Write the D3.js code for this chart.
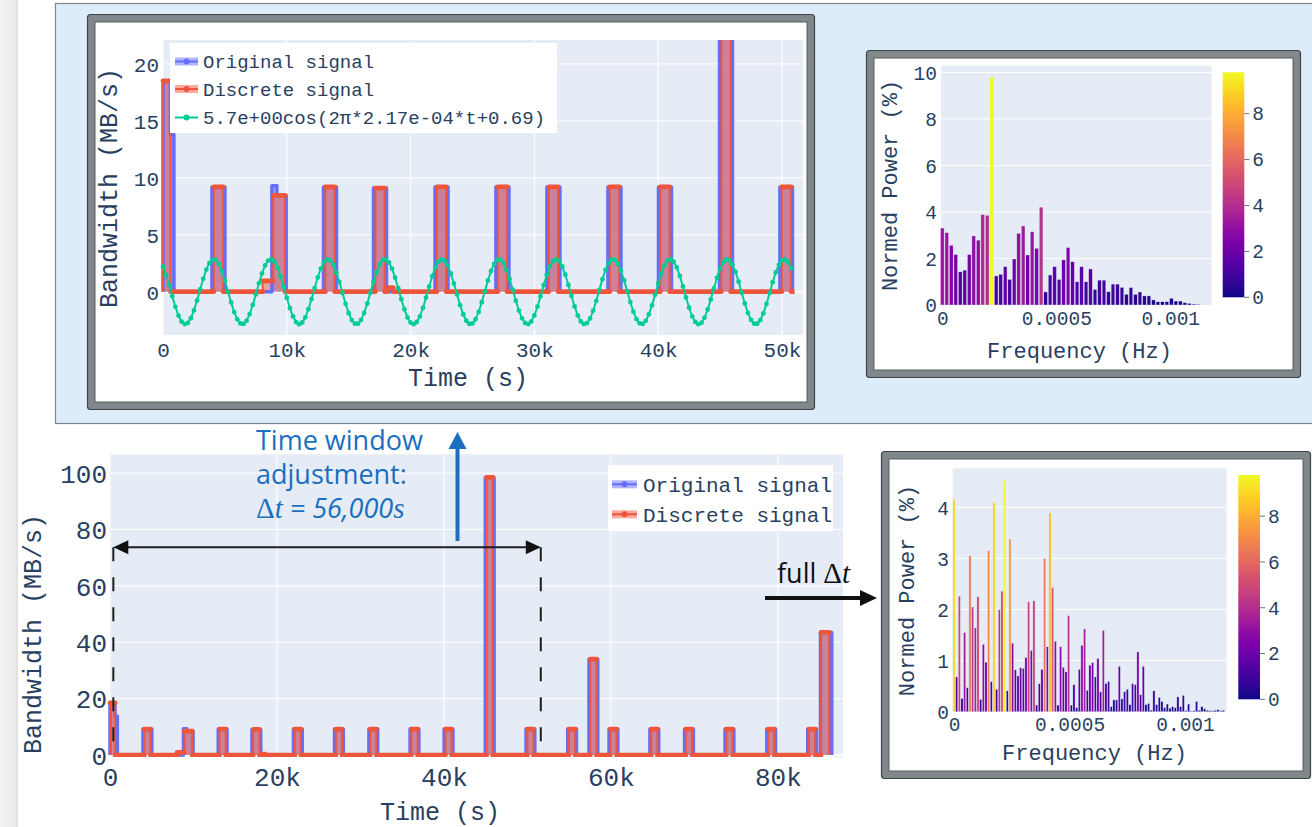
<!DOCTYPE html>
<html>
<head>
<meta charset="utf-8">
<title>I/O bandwidth trace and its frequency spectrum</title>
<script src="https://cdn.jsdelivr.net/npm/d3@7/dist/d3.min.js"></script>
<style>
  html, body { margin: 0; padding: 0; background: #ffffff; }
  svg { display: block; }
</style>
</head>
<body>
<svg id="figure" width="1312" height="827"></svg>
<script>
// ---------------- data ----------------
// Bursts of the recorded bandwidth: [start (s), end (s), bandwidth (MB/s)]
const originalPulses = [
  [0, 600, 18.5], [600, 880, 13.8],
  [3955, 5005, 9.2],
  [8800, 9200, 9.3], [9200, 9950, 8.45],
  [12965, 14015, 9.2],
  [17005, 18055, 9.1],
  [21975, 23025, 9.2],
  [26895, 27945, 9.2],
  [31015, 32065, 9.2],
  [35945, 36995, 9.2],
  [40025, 41075, 9.2],
  [44955, 46005, 98.5],
  [49835, 50885, 9.2],
  [54825, 55875, 9.2],
  [57375, 58425, 34],
  [59775, 60825, 9.2],
  [64675, 65725, 9.2],
  [68825, 69875, 9.2],
  [73675, 74725, 9.2],
  [78675, 79725, 9.2],
  [83575, 84625, 9.2],
  [85100, 86450, 43.5]
];
// Discretised version of the same signal
const discretePulses = [
  [0, 620, 18.5],
  [4105, 4855, 9.2],
  [8050, 8900, 0.95], [8900, 9850, 8.45],
  [13115, 13865, 9.2],
  [17155, 17905, 9.1],
  [18100, 18600, 0.35],
  [22125, 22875, 9.2],
  [27045, 27795, 9.2],
  [31165, 31915, 9.2],
  [36095, 36845, 9.2],
  [40175, 40925, 9.2],
  [45105, 45855, 98.5],
  [49985, 50735, 9.2],
  [54975, 55725, 9.2],
  [57525, 58275, 34],
  [59925, 60675, 9.2],
  [64825, 65575, 9.2],
  [68975, 69725, 9.2],
  [73825, 74575, 9.2],
  [78825, 79575, 9.2],
  [83725, 84475, 9.2],
  [85150, 86150, 43.5]
];

// Analysed time window (s)
const windowStart = 400;
const windowEnd = 51600;
const detailEnd = 51000;

// Dominant cosine fitted in the window (printed coefficient is the peak-to-peak swing)
const fitLabel = "5.7e+00cos(2π*2.17e-04*t+0.69)";
const fitPeakToPeak = 5.7;
const fitFrequency = 2.17e-4;
const fitPhase = 0.69;
const fitStep = 250;
const fitEnd = 50800;

// Normed power spectrum of the window, one bar per frequency bin
const windowBinWidth = 1.97e-5;
const windowPower = [3.31, 3.11, 2.57, 2.17, 1.43, 1.5, 2.17, 2.97, 2.79, 3.89,
  3.86, 9.8, 1.25, 1.32, 1.65, 1.1, 1.98, 3.08, 3.4, 2.15,
  3.15, 2.44, 4.21, 0.56, 1.29, 1.65, 1.1, 1.94, 2.47, 1.86,
  1.0, 1.65, 1.0, 1.55, 0.67, 1.07, 1.07, 0.57, 0.9, 0.9,
  0.76, 0.46, 0.75, 0.46, 0.56, 0.39, 0.39, 0.22, 0.14, 0.14,
  0.14, 0.29, 0.17, 0.17, 0.1, 0.07, 0.04, 0.03];

// Normed power spectrum of the full trace
const fullBinWidth = 1.154e-5;
const fullPower = [4.16, 0.68, 2.26, 0.26, 1.55, 0.47, 3.05, 2.05, 1.64, 2.25,
  0.24, 1.32, 0.97, 3.15, 0.59, 4.1, 0.44, 2.0, 2.36, 4.53,
  0.41, 3.38, 1.34, 0.82, 0.7, 0.86, 0.85, 1.06, 2.15, 1.2,
  2.17, 0.13, 0.55, 0.83, 3.0, 1.27, 3.89, 2.43, 1.38, 0.13,
  1.27, 0.87, 0.78, 1.88, 0.13, 0.53, 0.08, 0.83, 1.3, 1.62,
  0.42, 0.91, 0.96, 0.68, 1.04, 0.39, 1.59, 0.55, 0.59, 0.1,
  0.23, 0.23, 0.89, 0.25, 0.39, 0.44, 0.14, 0.55, 0.53, 1.17,
  0.33, 0.89, 0.14, 0.16, 0.03, 0.41, 0.14, 0.28, 0.2, 0.08,
  0.15, 0.07, 0.1, 0.08, 0.29, 0.1, 0.32, 0.02, 0.15, 0.01,
  0.02, 0.2, 0.03, 0.1, 0.06, 0.03, 0.02, 0.02, 0.03, 0.04,
  0.02, 0.03];
const colorbarMax = 9.8;

// Tick values
const timeTicksDetail = [0, 10000, 20000, 30000, 40000, 50000];
const bwTicksDetail = [0, 5, 10, 15, 20];
const timeTicksFull = [0, 20000, 40000, 60000, 80000];
const bwTicksFull = [0, 20, 40, 60, 80, 100];
const freqTicks = [0, 0.0005, 0.001];
const powerTicksWindow = [0, 2, 4, 6, 8, 10];
const powerTicksFull = [0, 1, 2, 3, 4];
const colorbarTicks = [0, 2, 4, 6, 8];
const seriesNames = ["Original signal", "Discrete signal"];

// ---------------- styling ----------------
const MONO = "'Liberation Mono', 'Cousine', 'Courier New', monospace";
const SANS = "'Open Sans', 'Noto Sans', sans-serif";
const SERIF = "'Liberation Serif', 'DejaVu Serif', serif";
const INK = "#2a3f5f";
const PLOT_BG = "#e5ecf6";
const BLUE = "#636efa", RED = "#ef553b", GREEN = "#00cc96";
const BLUE_FILL = "rgba(99,110,250,0.5)", RED_FILL = "rgba(239,85,59,0.5)";
const NOTE_BLUE = "#1a6fbe";

const timeFmt = d => d === 0 ? "0" : d3.format("~s")(d);
const freqFmt = d => d === 0 ? "0" : String(d);

const svg = d3.select("#figure");
const defs = svg.append("defs");

// ---------------- page backdrop ----------------
svg.append("rect").attr("width", 1312).attr("height", 827).attr("fill", "#ffffff");
const edge = defs.append("linearGradient").attr("id", "edgeShade")
  .attr("x1", 0).attr("x2", 1).attr("y1", 0).attr("y2", 0);
edge.append("stop").attr("offset", 0).attr("stop-color", "#f3f3f3");
edge.append("stop").attr("offset", 0.8).attr("stop-color", "#ebebeb");
edge.append("stop").attr("offset", 1).attr("stop-color", "#dedede");
svg.append("rect").attr("x", 0).attr("y", 0).attr("width", 18).attr("height", 827)
  .attr("fill", "url(#edgeShade)");

// light blue box holding the window analysis
svg.append("rect").attr("x", 55.5).attr("y", 3.5).attr("width", 1280).attr("height", 420)
  .attr("fill", "#ddecfa").attr("stroke", "#7d868e").attr("stroke-width", 1.2);

function frame(x0, y0, x1, y1, inset) {
  svg.append("rect").attr("x", x0 + 0.5).attr("y", y0 + 0.5)
    .attr("width", x1 - x0 - 1).attr("height", y1 - y0 - 1).attr("rx", 3)
    .attr("fill", "#81888c").attr("stroke", "#3f4448").attr("stroke-width", 1.2);
  svg.append("rect").attr("x", x0 + inset).attr("y", y0 + inset)
    .attr("width", x1 - x0 - 2 * inset).attr("height", y1 - y0 - 2 * inset)
    .attr("fill", "#ffffff").attr("stroke", "#595e62").attr("stroke-width", 1);
}
frame(87, 14, 815, 410, 8);
frame(866, 50, 1301, 378, 8);
frame(881, 451, 1311, 779, 8);

// ---------------- helpers ----------------
function stepVertices(pulses, tEnd) {
  const pts = [];
  pulses.forEach(([s, e, v], i) => {
    if (i === 0) pts.push([s, 0]);
    else if (s > pulses[i - 1][1]) pts.push([s, 0]);
    pts.push([s, v], [e, v]);
    const next = pulses[i + 1];
    if (!next || next[0] > e) pts.push([e, 0]);
  });
  if (tEnd > pts[pts.length - 1][0]) pts.push([tEnd, 0]);
  return pts;
}
function flatSegments(pts) {
  const segs = [];
  for (let i = 0; i < pts.length - 1; i++) {
    if (pts[i][1] === pts[i + 1][1] && pts[i][0] !== pts[i + 1][0]) segs.push([pts[i], pts[i + 1]]);
  }
  return segs;
}
function styleTicks(sel, size) {
  sel.selectAll("text").attr("font-family", MONO).attr("font-size", size).attr("fill", INK);
}
function xLabels(g, scale, ticks, fmt, yPos, size) {
  const ax = g.append("g").attr("transform", `translate(0,${yPos})`)
    .call(d3.axisBottom(scale).tickValues(ticks).tickFormat(fmt).tickSize(0).tickPadding(0));
  ax.select(".domain").remove();
  ax.selectAll("text").attr("y", 0).attr("dy", "0.35em");
  styleTicks(ax, size);
}
function yLabels(g, scale, ticks, fmt, xPos, size) {
  const ax = g.append("g").attr("transform", `translate(${xPos},0)`)
    .call(d3.axisLeft(scale).tickValues(ticks).tickFormat(fmt).tickSize(0).tickPadding(0));
  ax.select(".domain").remove();
  ax.selectAll("text").attr("dy", "0.35em");
  styleTicks(ax, size);
}
function title(g, text, x, y, size, rotate) {
  g.append("text").attr("x", x).attr("y", y)
    .attr("transform", rotate ? `rotate(-90,${x},${y})` : null)
    .attr("text-anchor", "middle").attr("dominant-baseline", "central")
    .attr("font-family", MONO).attr("font-size", size).attr("fill", INK).text(text);
}

// ---------------- bandwidth time series ----------------
function timePanel(o) {
  const x = d3.scaleLinear().domain(o.xDomain).range([o.left, o.right]);
  const y = d3.scaleLinear().domain(o.yDomain).range([o.bottom, o.top]);
  const g = svg.append("g");
  g.append("rect").attr("x", o.left).attr("y", o.top)
    .attr("width", o.right - o.left).attr("height", o.bottom - o.top).attr("fill", PLOT_BG);
  g.append("g").selectAll("line").data(o.xTicks).join("line")
    .attr("x1", d => x(d)).attr("x2", d => x(d)).attr("y1", o.top).attr("y2", o.bottom)
    .attr("stroke", "#ffffff").attr("stroke-width", 1);
  g.append("g").selectAll("line").data(o.yTicks).join("line")
    .attr("x1", o.left).attr("x2", o.right).attr("y1", d => y(d)).attr("y2", d => y(d))
    .attr("stroke", "#ffffff").attr("stroke-width", d => d === 0 ? 2 : 1);

  const clipId = o.id + "-clip";
  defs.append("clipPath").attr("id", clipId).append("rect")
    .attr("x", o.left - 3).attr("y", o.top)
    .attr("width", x(o.clipEnd) - o.left + 3).attr("height", o.bottom - o.top);
  const data = g.append("g").attr("clip-path", `url(#${clipId})`);

  const orig = stepVertices(originalPulses, originalPulses[originalPulses.length - 1][1]);
  const disc = stepVertices(discretePulses, discretePulses[discretePulses.length - 1][1]);
  const area = d3.area().x(d => x(d[0])).y0(y(0)).y1(d => y(d[1]));
  const line = d3.line().x(d => x(d[0])).y(d => y(d[1]));

  data.append("path").attr("d", area(orig)).attr("fill", BLUE_FILL);
  data.append("path").attr("d", area(disc)).attr("fill", RED_FILL);
  data.append("path").attr("d", line(orig)).attr("fill", "none")
    .attr("stroke", BLUE).attr("stroke-width", 3.5).attr("stroke-linejoin", "round");
  data.append("path").attr("d", line(disc)).attr("fill", "none")
    .attr("stroke", RED).attr("stroke-width", 2).attr("stroke-linejoin", "round");
  // sample markers merge into a thicker band along every flat run of the discrete signal
  data.append("g").selectAll("line").data(flatSegments(disc)).join("line")
    .attr("x1", d => x(d[0][0])).attr("x2", d => x(d[1][0]))
    .attr("y1", d => y(d[0][1])).attr("y2", d => y(d[1][1]))
    .attr("stroke", RED).attr("stroke-width", 4.8).attr("stroke-linecap", "round");

  if (o.withFit) {
    const fitTimes = d3.range(0, fitEnd + 1, fitStep);
    const fit = fitTimes.map(t => [t, fitPeakToPeak / 2 * Math.cos(2 * Math.PI * fitFrequency * t + fitPhase)]);
    data.append("path").attr("d", line(fit)).attr("fill", "none")
      .attr("stroke", GREEN).attr("stroke-width", 2);
    data.append("g").selectAll("circle").data(fit).join("circle")
      .attr("cx", d => x(d[0])).attr("cy", d => y(d[1])).attr("r", 2.4).attr("fill", GREEN);
  }

  xLabels(g, x, o.xTicks, timeFmt, o.xLabelY, o.tickSize);
  yLabels(g, y, o.yTicks, d => String(d), o.yLabelX, o.tickSize);
  title(g, "Time (s)", o.xTitle[0], o.xTitle[1], o.titleSize, false);
  title(g, "Bandwidth (MB/s)", o.yTitle[0], o.yTitle[1], o.titleSize, true);
  return { x, y, g };
}

function legendBox(g, box, rows, textX, symX0, symX1, size, entries) {
  g.append("rect").attr("x", box[0]).attr("y", box[1]).attr("width", box[2] - box[0])
    .attr("height", box[3] - box[1]).attr("fill", "#ffffff");
  entries.forEach((en, i) => {
    const cy = rows[i];
    if (en.fill) {
      g.append("rect").attr("x", symX0).attr("y", cy - 4).attr("width", symX1 - symX0)
        .attr("height", 8).attr("fill", en.fill);
    }
    g.append("line").attr("x1", symX0).attr("x2", symX1).attr("y1", cy).attr("y2", cy)
      .attr("stroke", en.color).attr("stroke-width", 2);
    g.append("circle").attr("cx", (symX0 + symX1) / 2).attr("cy", cy).attr("r", 3).attr("fill", en.color);
    g.append("text").attr("x", textX).attr("y", cy).attr("dy", "0.35em")
      .attr("font-family", MONO).attr("font-size", size).attr("fill", INK).text(en.name);
  });
}

// window (detail) view
const detail = timePanel({
  id: "detail", left: 163, right: 803, top: 40, bottom: 335,
  xDomain: [0, 51700], yDomain: [-3.8, 22.1],
  xTicks: timeTicksDetail, yTicks: bwTicksDetail, clipEnd: detailEnd, withFit: true,
  tickSize: 21, titleSize: 25, xLabelY: 350, yLabelX: 159,
  xTitle: [468, 379], yTitle: [110, 188]
});
legendBox(detail.g, [170, 43, 557, 133], [61.5, 89, 117.5], 203, 175, 198, 19, [
  { name: seriesNames[0], color: BLUE, fill: BLUE_FILL },
  { name: seriesNames[1], color: RED, fill: RED_FILL },
  { name: fitLabel, color: GREEN }
]);

// full trace view
const full = timePanel({
  id: "full", left: 110, right: 843, top: 454.3, bottom: 757,
  xDomain: [0, 87800], yDomain: [-0.7, 106.7],
  xTicks: timeTicksFull, yTicks: bwTicksFull, clipEnd: 87800, withFit: false,
  tickSize: 26, titleSize: 25, xLabelY: 777, yLabelX: 107,
  xTitle: [440, 813], yTitle: [34, 634]
});
legendBox(full.g, [608, 465, 833, 531], [484.3, 514.3], 643, 612, 637, 21, [
  { name: seriesNames[0], color: BLUE, fill: BLUE_FILL },
  { name: seriesNames[1], color: RED, fill: RED_FILL }
]);

// ---------------- spectra ----------------
const plasmaGrad = defs.append("linearGradient").attr("id", "plasmaBar")
  .attr("x1", 0).attr("x2", 0).attr("y1", 1).attr("y2", 0);
d3.range(0, 1.0001, 0.05).forEach(t => {
  plasmaGrad.append("stop").attr("offset", t).attr("stop-color", d3.interpolatePlasma(t));
});

function spectrumPanel(o) {
  const x = d3.scaleLinear().domain(o.xDomain).range([o.left, o.right]);
  const y = d3.scaleLinear().domain(o.yDomain).range([o.bottom, o.top]);
  const g = svg.append("g");
  g.append("rect").attr("x", o.left).attr("y", o.top)
    .attr("width", o.right - o.left).attr("height", o.bottom - o.top).attr("fill", PLOT_BG);
  g.append("g").selectAll("line").data(o.yTicks.filter(d => d > 0)).join("line")
    .attr("x1", o.left).attr("x2", o.right).attr("y1", d => y(d)).attr("y2", d => y(d))
    .attr("stroke", "#ffffff").attr("stroke-width", 1);

  const maxP = d3.max(o.power);
  const bw = (x(o.binWidth) - x(0)) * 0.82;
  g.append("g").selectAll("rect").data(o.power).join("rect")
    .attr("x", (d, i) => x(i * o.binWidth) - bw / 2)
    .attr("y", d => y(d))
    .attr("width", bw)
    .attr("height", d => y(0) - y(d))
    .attr("fill", d => d3.interpolatePlasma(d / maxP))
    .attr("stroke", PLOT_BG).attr("stroke-width", 0.4);

  xLabels(g, x, freqTicks, freqFmt, o.xLabelY, o.tickSize);
  yLabels(g, y, o.yTicks, d => String(d), o.yLabelX, o.tickSize);
  title(g, "Frequency (Hz)", o.xTitle[0], o.xTitle[1], o.titleSize, false);
  title(g, "Normed Power (%)", o.yTitle[0], o.yTitle[1], o.titleSize, true);

  // colour bar
  const [cx0, cy0, cx1, cy1] = o.cbar;
  const cb = d3.scaleLinear().domain([0, colorbarMax]).range([cy1, cy0]);
  g.append("rect").attr("x", cx0).attr("y", cy0).attr("width", cx1 - cx0).attr("height", cy1 - cy0)
    .attr("fill", "url(#plasmaBar)");
  const ticks = g.append("g");
  ticks.selectAll("line").data(colorbarTicks).join("line")
    .attr("x1", cx1).attr("x2", cx1 + 5).attr("y1", d => cb(d)).attr("y2", d => cb(d))
    .attr("stroke", "#6b7587").attr("stroke-width", 1);
  ticks.selectAll("text").data(colorbarTicks).join("text")
    .attr("x", cx1 + 8).attr("y", d => cb(d)).attr("dy", "0.35em")
    .attr("font-family", MONO).attr("font-size", o.tickSize).attr("fill", INK).text(d => d);
}

spectrumPanel({
  left: 941, right: 1211.7, top: 65.7, bottom: 305,
  xDomain: [-5.7e-6, 0.0011816], yDomain: [0, 10.29],
  yTicks: powerTicksWindow, power: windowPower, binWidth: windowBinWidth,
  tickSize: 19.5, titleSize: 22, xLabelY: 318, yLabelX: 937,
  xTitle: [1079.5, 352], yTitle: [891.7, 185.5],
  cbar: [1222.7, 72.3, 1244.3, 297.3]
});
spectrumPanel({
  left: 952.7, right: 1226.7, top: 468.3, bottom: 711.7,
  xDomain: [-5.6e-6, 0.0011805], yDomain: [0, 4.763],
  yTicks: powerTicksFull, power: fullPower, binWidth: fullBinWidth,
  tickSize: 19.5, titleSize: 22, xLabelY: 724, yLabelX: 949,
  xTitle: [1094.5, 754], yTitle: [908.3, 590.5],
  cbar: [1238.3, 475, 1260, 699.3]
});

// ---------------- annotations ----------------
const notes = svg.append("g");
const arrowY = full.y(73.7);
const dashBottom = full.y(4.6);
const xa = full.x(windowStart), xb = full.x(windowEnd);

// window boundaries
[xa, xb].forEach(xv => {
  notes.append("line").attr("x1", xv).attr("x2", xv).attr("y1", arrowY).attr("y2", dashBottom)
    .attr("stroke", "#1e1e1e").attr("stroke-width", 2).attr("stroke-dasharray", "14,16");
});
// double-headed span arrow
notes.append("line").attr("x1", xa + 12).attr("x2", xb - 12).attr("y1", arrowY).attr("y2", arrowY)
  .attr("stroke", "#1e1e1e").attr("stroke-width", 2);
notes.append("path").attr("d", `M${xa},${arrowY} L${xa + 15},${arrowY - 7} L${xa + 15},${arrowY + 7} Z`)
  .attr("fill", "#111");
notes.append("path").attr("d", `M${xb},${arrowY} L${xb - 15},${arrowY - 7} L${xb - 15},${arrowY + 7} Z`)
  .attr("fill", "#111");

// arrow up to the window analysis
notes.append("line").attr("x1", 457.5).attr("x2", 457.5).attr("y1", 541).attr("y2", 446)
  .attr("stroke", NOTE_BLUE).attr("stroke-width", 4);
notes.append("path").attr("d", "M457.5,432 L448.5,449 L466.5,449 Z").attr("fill", NOTE_BLUE);

const noteText = notes.append("g").attr("fill", NOTE_BLUE).attr("font-size", 27);
noteText.append("text").attr("x", 256).attr("y", 450).attr("font-family", SANS).text("Time window");
noteText.append("text").attr("x", 256).attr("y", 484).attr("font-family", SANS).text("adjustment:");
const dt = noteText.append("text").attr("x", 256).attr("y", 518);
dt.append("tspan").attr("font-family", SERIF).attr("font-size", 29).text("Δ");
dt.append("tspan").attr("font-family", SERIF).attr("font-style", "italic").attr("font-size", 29).text("t");
dt.append("tspan").attr("font-family", SANS).attr("font-style", "italic").text(" = 56,000");
dt.append("tspan").attr("font-family", SERIF).attr("font-style", "italic").attr("font-size", 29).text("s");

// arrow to the full-trace spectrum
const fullText = notes.append("text").attr("x", 777).attr("y", 583).attr("fill", "#111").attr("font-size", 27);
fullText.append("tspan").attr("font-family", SANS).text("full ");
fullText.append("tspan").attr("font-family", SERIF).attr("font-size", 29).text("Δ");
fullText.append("tspan").attr("font-family", SERIF).attr("font-style", "italic").attr("font-size", 29).text("t");
notes.append("line").attr("x1", 765).attr("x2", 862).attr("y1", 598).attr("y2", 598)
  .attr("stroke", "#111").attr("stroke-width", 4);
notes.append("path").attr("d", "M877,598 L860,590 L860,606 Z").attr("fill", "#111");
</script>
</body>
</html>
